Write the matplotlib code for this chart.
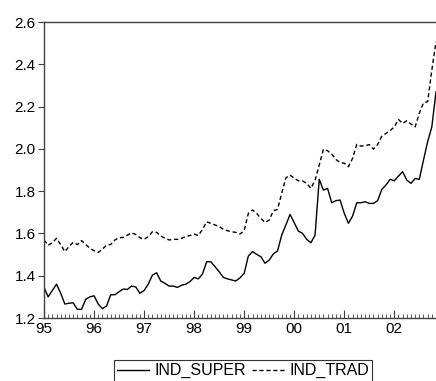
import matplotlib.pyplot as plt
from matplotlib.ticker import MultipleLocator

plt.rcParams['font.family'] = ['Liberation Sans', 'DejaVu Sans']

# monthly data, 1995M01 .. 2002M11
ind_super = [1.345, 1.30, 1.33, 1.36, 1.317, 1.266, 1.27, 1.272, 1.241, 1.241,
             1.288, 1.30, 1.305, 1.266, 1.244, 1.257, 1.31, 1.31, 1.324, 1.337,
             1.335, 1.351, 1.347, 1.317, 1.33, 1.36, 1.403, 1.414, 1.375, 1.364,
             1.351, 1.351, 1.345, 1.355, 1.36, 1.372, 1.392, 1.385, 1.408, 1.466,
             1.466, 1.443, 1.419, 1.392, 1.385, 1.38, 1.375, 1.39, 1.411, 1.493,
             1.514, 1.501, 1.49, 1.459, 1.474, 1.503, 1.517, 1.592, 1.64, 1.69,
             1.651, 1.611, 1.60, 1.572, 1.556, 1.592, 1.856, 1.805, 1.813, 1.745,
             1.755, 1.758, 1.695, 1.648, 1.682, 1.745, 1.745, 1.75, 1.742, 1.742,
             1.755, 1.808, 1.829, 1.856, 1.849, 1.871, 1.892, 1.852, 1.837, 1.86,
             1.856, 1.947, 2.034, 2.104, 2.27]

ind_trad = [1.569, 1.544, 1.556, 1.577, 1.547, 1.514, 1.538, 1.558, 1.547, 1.566,
            1.547, 1.53, 1.518, 1.51, 1.526, 1.544, 1.548, 1.569, 1.58, 1.581,
            1.592, 1.603, 1.595, 1.58, 1.572, 1.585, 1.608, 1.605, 1.588, 1.577,
            1.569, 1.572, 1.572, 1.577, 1.585, 1.59, 1.597, 1.59, 1.619, 1.655,
            1.648, 1.64, 1.633, 1.62, 1.613, 1.608, 1.605, 1.597, 1.613, 1.695,
            1.711, 1.695, 1.671, 1.652, 1.663, 1.707, 1.714, 1.79, 1.863, 1.876,
            1.861, 1.849, 1.848, 1.837, 1.813, 1.852, 1.923, 1.998, 1.991, 1.975,
            1.95, 1.935, 1.932, 1.916, 1.955, 2.021, 2.013, 2.015, 2.02, 1.999,
            2.02, 2.06, 2.073, 2.086, 2.104, 2.139, 2.12, 2.133, 2.117, 2.104,
            2.168, 2.218, 2.223, 2.373, 2.506]

year_labels = ['95', '96', '97', '98', '99', '00', '01', '02']

months = list(range(len(ind_super)))

fig = plt.figure(figsize=(4.36, 3.81), dpi=100)
ax = fig.add_axes([44 / 436, 1 - 318 / 381, 1 - 44 / 436, (318 - 22) / 381])

ax.plot(months, ind_super, color='black', lw=1.0, label='IND_SUPER')
ax.plot(months, ind_trad, color='black', lw=1.0, ls=(0, (3, 2)), label='IND_TRAD')

ax.set_xlim(0, len(months) - 1)
ax.set_ylim(1.2, 2.6)
ax.yaxis.set_major_locator(MultipleLocator(0.2))
ax.yaxis.set_major_formatter(plt.FormatStrFormatter('%.1f'))

ax.set_xticks([12 * i for i in range(len(year_labels))])
ax.set_xticklabels(year_labels)
ax.xaxis.set_minor_locator(MultipleLocator(1))

ax.tick_params(axis='y', direction='out', length=4, width=0.8, labelsize=11, pad=2, color='#404040')
ax.tick_params(axis='x', which='major', direction='in', length=6, width=0.8, labelsize=11, pad=3, color='#404040')
ax.tick_params(axis='x', which='minor', direction='in', length=3, width=0.6, color='#404040')

for side in ['left', 'top', 'bottom']:
    ax.spines[side].set_color('#404040')
    ax.spines[side].set_linewidth(1.0)
ax.spines['right'].set_visible(False)

leg = fig.legend(loc='upper center', bbox_to_anchor=(243 / 436, 1 - 360 / 381), ncol=2,
                 fontsize=11.5, frameon=True, fancybox=False, handlelength=2.0,
                 handletextpad=0.35, columnspacing=0.35, borderpad=0.2,
                 borderaxespad=0)
leg.get_frame().set_edgecolor('black')
leg.get_frame().set_linewidth(0.8)

fig.savefig('out.png', dpi=100)
